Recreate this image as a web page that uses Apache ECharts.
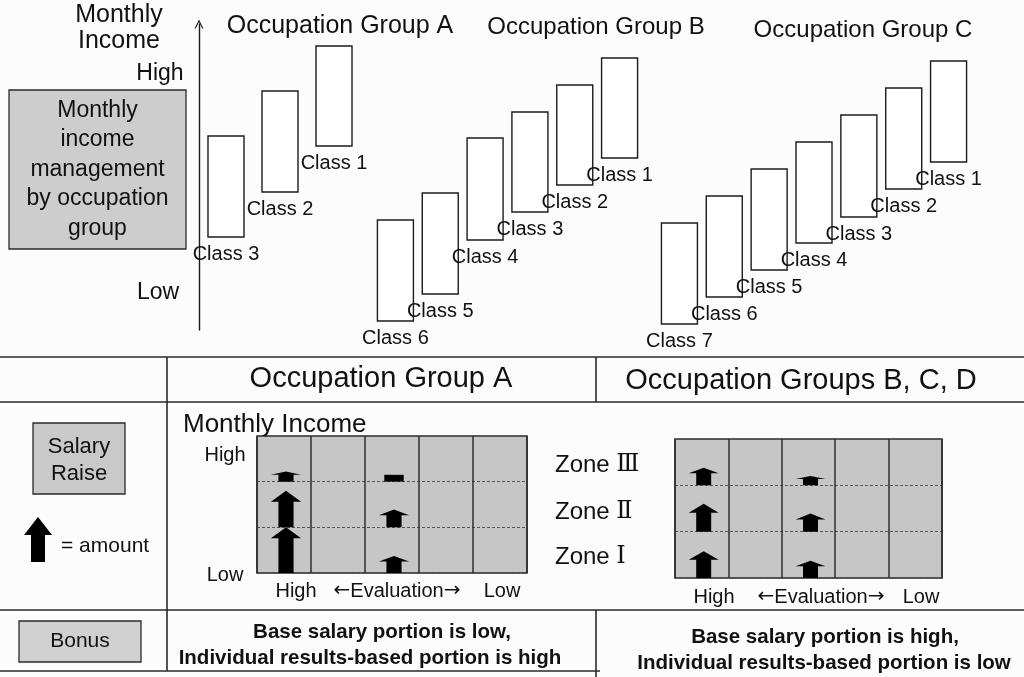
<!DOCTYPE html>
<html>
<head>
<meta charset="utf-8">
<script src="https://cdn.jsdelivr.net/npm/echarts@6/dist/echarts.min.js"></script>
<style>
html,body{margin:0;padding:0;background:#fcfcfc;}
#chart{width:1024px;height:677px;}
</style>
</head>
<body>
<div id="chart"></div>
<script>
// ---------- DATA ----------
// Top: monthly income range (low / high level) per class, by occupation group
const groupAClasses = ['Class 3', 'Class 2', 'Class 1'];
const groupALow  = [93, 138, 184];
const groupAHigh = [194, 239, 284];

const groupBClasses = ['Class 6', 'Class 5', 'Class 4', 'Class 3', 'Class 2', 'Class 1'];
const groupBLow  = [9, 36, 90, 118, 145, 172];
const groupBHigh = [110, 137, 192, 218, 245, 272];

const groupCClasses = ['Class 7', 'Class 6', 'Class 5', 'Class 4', 'Class 3', 'Class 2', 'Class 1'];
const groupCLow  = [6, 33, 60, 87, 113, 141, 168];
const groupCHigh = [107, 134, 161, 188, 215, 242, 269];

const groupTitles = ['Occupation Group A', 'Occupation Group B', 'Occupation Group C'];

// Bottom: salary raise amount (in zone-heights) by evaluation column and zone
const evaluationLevels = ['High', '2', '3', '4', 'Low'];
const zoneNames = ['Ⅰ', 'Ⅱ', 'Ⅲ'];
const raiseCol  = [0, 0, 0, 2, 2, 2];
const raiseZone = [0, 1, 2, 0, 1, 2];
const raiseA    = [1.0, 0.8, 0.22, 0.37, 0.39, 0.15];
const raiseAHead = [1, 1, 1, 1, 1, 0];
const raiseBCD  = [0.58, 0.6, 0.38, 0.37, 0.39, 0.2];
const raiseBCDHead = [1, 1, 1, 1, 1, 1];

// ---------- RENDER ----------
const FONT = "'Liberation Sans', Arial, Helvetica, sans-serif";
const INK = '#1c1c1c';
const chart = echarts.init(document.getElementById('chart'), null, {renderer: 'canvas'});

function barRenderer(labels) {
  return function (params, api) {
    const x = api.value(0), lo = api.value(1), hi = api.value(2);
    const pTop = api.coord([x, hi]);
    const pBot = api.coord([x, lo]);
    const w = 36;
    return {
      type: 'group',
      children: [
        {type: 'rect', shape: {x: pTop[0] - w / 2, y: pTop[1], width: w, height: pBot[1] - pTop[1]},
         style: {fill: '#ffffff', stroke: INK, lineWidth: 1.4}},
        {type: 'text', x: pTop[0], y: pBot[1] + 17,
         style: {text: labels[params.dataIndex], fontSize: 20, fontFamily: FONT, fill: '#111',
                 align: 'center', verticalAlign: 'middle'}}
      ]
    };
  };
}

function arrowRenderer(params, api) {
  const col = api.value(0), zone = api.value(1), amt = api.value(2), head = api.value(3);
  const pb = api.coord([col, zone]);
  const pt = api.coord([col, zone + amt]);
  const colW = api.size([1, 0])[0];
  const cx = pb[0] + 2;
  const h = pb[1] - pt[1];
  if (!head) {
    const bw = colW * 0.18;
    return {type: 'rect', shape: {x: cx - bw, y: pt[1], width: bw * 2, height: h}, style: {fill: '#000'}};
  }
  const hw = colW * 0.28, sw = colW * 0.14, hh = Math.min(h * 0.32, 11);
  return {
    type: 'polygon',
    shape: {points: [[cx - sw, pb[1]], [cx - sw, pt[1] + hh], [cx - hw, pt[1] + hh], [cx, pt[1]],
                     [cx + hw, pt[1] + hh], [cx + sw, pt[1] + hh], [cx + sw, pb[1]]]},
    style: {fill: '#000'}
  };
}

function toBars(low, high) { return low.map((v, i) => [i, v, high[i]]); }
function toArrows(amounts, heads) { return amounts.map((a, i) => [raiseCol[i], raiseZone[i], a, heads[i]]); }

const hiddenCat = (g, data) => ({type: 'category', gridIndex: g, data: data, show: false});
const hiddenVal = (g) => ({type: 'value', gridIndex: g, min: 0, max: 306, show: false});

const raiseXAxis = (g) => ({
  type: 'category', gridIndex: g, data: evaluationLevels,
  axisLine: {show: false}, axisTick: {show: false}, axisLabel: {show: false},
  splitLine: {show: true, interval: 0, lineStyle: {color: '#2e2e2e', width: 1.5}}
});
const raiseYAxis = (g) => ({
  type: 'value', gridIndex: g, min: 0, max: 3, interval: 1,
  axisLine: {show: false}, axisTick: {show: false}, axisLabel: {show: false},
  splitLine: {show: true, lineStyle: {color: '#555', width: 1.2, type: [3, 2]}}
});

const txt = (text, x, y, size, extra) => Object.assign({
  type: 'text', x: x, y: y,
  style: Object.assign({text: text, fontSize: size, fontFamily: FONT, fill: '#111',
                        align: 'center', verticalAlign: 'middle'}, (extra && extra.style) || {})
}, extra && extra.el || {});
const hline = (y, x1, x2) => ({type: 'line', shape: {x1: x1, y1: y, x2: x2, y2: y}, style: {stroke: '#2a2a2a', lineWidth: 1.6}});
const vline = (x, y1, y2) => ({type: 'line', shape: {x1: x, y1: y1, x2: x, y2: y2}, style: {stroke: '#2a2a2a', lineWidth: 1.6}});
const box = (x, y, w, h, fill) => ({type: 'rect', shape: {x: x, y: y, width: w, height: h},
  style: {fill: fill, stroke: '#2a2a2a', lineWidth: 1.3}});
const evalText = (x, y) => ({
  type: 'text', x: x, y: y,
  style: {text: '{t|}{ar|←}{t|Evaluation}{ar|→}', align: 'center', verticalAlign: 'middle',
          rich: {t: {fontSize: 20, fontFamily: FONT, fill: '#111'},
                 ar: {fontSize: 20, fontFamily: "'DejaVu Sans', sans-serif", fill: '#111'}}}
});

const boxLines = ['Monthly', 'income', 'management', 'by occupation', 'group'];
const graphics = [];
// top-left
graphics.push(txt('Monthly', 119, 15, 25), txt('Income', 119, 41, 25));
graphics.push(txt('High', 160, 74, 23), txt('Low', 158, 293, 23));
graphics.push(box(9, 90, 177, 159, '#cdcdcd'));
boxLines.forEach((t, i) => graphics.push(txt(t, 97.5, 169.5 + (i - 2) * 29.5, 23)));
// group titles
graphics.push(txt(groupTitles[0], 340, 26, 25), txt(groupTitles[1], 596, 27, 24), txt(groupTitles[2], 863, 30, 24));
// table lines
graphics.push(hline(357, 0, 1024), hline(402, 0, 1024), hline(610, 0, 1024), hline(671, 0, 600));
graphics.push(vline(167, 357, 671), vline(596, 357, 402), vline(596, 610, 677));
// header
graphics.push(txt('Occupation Group A', 381, 379, 29), txt('Occupation Groups B, C, D', 801, 381, 29));
// salary raise legend
graphics.push(box(33, 423, 92, 71, '#c9c9c9'));
graphics.push(txt('Salary', 79, 447, 22), txt('Raise', 79, 474, 22));
graphics.push({type: 'polygon', shape: {points: [[31, 562], [31, 535], [24, 535], [38, 517], [52, 535], [45, 535], [45, 562]]}, style: {fill: '#000'}});
graphics.push(txt('= amount', 61, 546, 21, {style: {align: 'left'}}));
// group A raise grid labels
graphics.push(txt('Monthly Income', 183, 425, 26, {style: {align: 'left'}}));
graphics.push(txt('High', 225, 455, 20), txt('Low', 225, 575, 20));
graphics.push(txt('High', 296, 591, 20), evalText(397, 591), txt('Low', 502, 591, 20));
// BCD zone labels
const zoneY = [557, 512, 465];
zoneNames.forEach((z, i) => graphics.push({
  type: 'text', x: 555, y: zoneY[i],
  style: {text: '{a|Zone }{b|' + z + '}', align: 'left', verticalAlign: 'middle',
          rich: {a: {fontSize: 24, fontFamily: FONT, fill: '#111'},
                 b: {fontSize: 24, fontFamily: "'DejaVu Serif','Noto Sans CJK JP',serif", fill: '#111'}}}
}));
graphics.push(txt('High', 714, 597, 20), evalText(821, 597), txt('Low', 921, 597, 20));
// bonus row
graphics.push(box(19, 621, 122, 41, '#d0d0d0'));
graphics.push(txt('Bonus', 80, 641, 21));
const bold = {style: {fontWeight: 'bold'}};
graphics.push(txt('Base salary portion is low,', 382, 632, 20.5, bold),
              txt('Individual results-based portion is high', 370, 658, 20.5, bold),
              txt('Base salary portion is high,', 825, 637, 20.5, bold),
              txt('Individual results-based portion is low', 824, 663, 20.5, bold));

const option = {
  backgroundColor: '#fcfcfc',
  animation: false,
  grid: [
    {left: 199, top: 24, width: 162, height: 306},
    {left: 373, top: 24, width: 269, height: 306},
    {left: 657, top: 24, width: 314, height: 306},
    {left: 257, top: 436, width: 270, height: 137, show: true, backgroundColor: '#c6c6c6', borderColor: '#2a2a2a', borderWidth: 1.5},
    {left: 675, top: 439, width: 267, height: 139, show: true, backgroundColor: '#c6c6c6', borderColor: '#2a2a2a', borderWidth: 1.5}
  ],
  xAxis: [
    hiddenCat(0, groupAClasses), hiddenCat(1, groupBClasses), hiddenCat(2, groupCClasses),
    raiseXAxis(3), raiseXAxis(4)
  ],
  yAxis: [
    {type: 'value', gridIndex: 0, min: 0, max: 306,
     axisLine: {show: true, symbol: ['none', 'path://M0,10 L5,0 L10,10 L8.6,10 L5,2.8 L1.4,10 Z'],
                symbolSize: [9, 9], lineStyle: {color: INK, width: 1.4}},
     axisTick: {show: false}, axisLabel: {show: false}, splitLine: {show: false}},
    hiddenVal(1), hiddenVal(2),
    raiseYAxis(3), raiseYAxis(4)
  ],
  series: [
    {type: 'custom', xAxisIndex: 0, yAxisIndex: 0, renderItem: barRenderer(groupAClasses), data: toBars(groupALow, groupAHigh), encode: {x: 0, y: [1, 2]}},
    {type: 'custom', xAxisIndex: 1, yAxisIndex: 1, renderItem: barRenderer(groupBClasses), data: toBars(groupBLow, groupBHigh), encode: {x: 0, y: [1, 2]}},
    {type: 'custom', xAxisIndex: 2, yAxisIndex: 2, renderItem: barRenderer(groupCClasses), data: toBars(groupCLow, groupCHigh), encode: {x: 0, y: [1, 2]}},
    {type: 'custom', xAxisIndex: 3, yAxisIndex: 3, renderItem: arrowRenderer, data: toArrows(raiseA, raiseAHead), encode: {x: 0, y: 1}, clip: false},
    {type: 'custom', xAxisIndex: 4, yAxisIndex: 4, renderItem: arrowRenderer, data: toArrows(raiseBCD, raiseBCDHead), encode: {x: 0, y: 1}, clip: false}
  ],
  graphic: graphics
};
chart.setOption(option);
</script>
</body>
</html>
